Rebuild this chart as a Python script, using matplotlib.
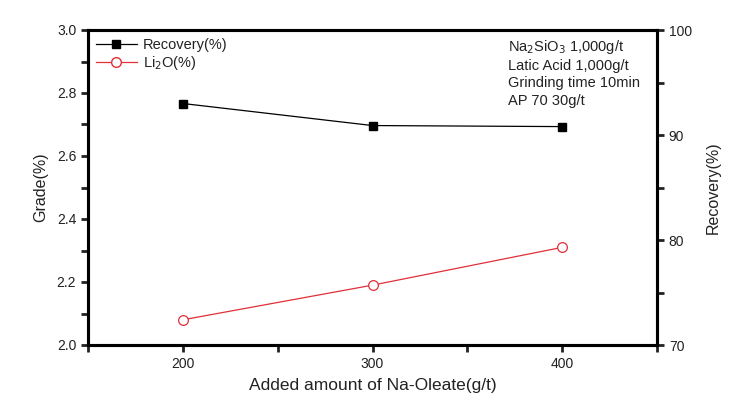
import matplotlib
matplotlib.use("Agg")
import matplotlib.pyplot as plt
from matplotlib.lines import Line2D
from matplotlib.ticker import MultipleLocator, FixedLocator

plt.rcParams['font.family'] = ['Liberation Sans', 'DejaVu Sans']

x_vals = [200, 300, 400]
recovery = [93.0, 90.9, 90.8]
li2o = [2.08, 2.19, 2.31]
x_ticks = [200, 300, 400]
grade_ticks = [2.0, 2.2, 2.4, 2.6, 2.8, 3.0]
rec_ticks = [70, 80, 90, 100]
notes = ["Na$_2$SiO$_3$ 1,000g/t", "Latic Acid 1,000g/t", "Grinding time 10min", "AP 70 30g/t"]

tc = '#222222'
fig = plt.figure(figsize=(7.41, 4.03), dpi=100)
ax = fig.add_axes([88/741, 1-345/403, (657-88)/741, (345-30)/403])
ax2 = ax.twinx()

ax.plot(x_vals, li2o, color='#e0303a', lw=0.9, marker='o', ms=7, mfc='white', mec='#e0303a', mew=0.9)
ax2.plot(x_vals, recovery, color='black', lw=0.9, marker='s', ms=6, mfc='black', mec='black')

ax.set_xlim(150, 450)
ax.set_ylim(2.0, 3.0)
ax2.set_ylim(70, 100)

ax.xaxis.set_major_locator(FixedLocator(x_ticks))
ax.xaxis.set_minor_locator(MultipleLocator(50))
ax.yaxis.set_major_locator(FixedLocator(grade_ticks))
ax.yaxis.set_minor_locator(MultipleLocator(0.1))
ax2.yaxis.set_major_locator(FixedLocator(rec_ticks))
ax2.yaxis.set_minor_locator(MultipleLocator(5))

for a in (ax, ax2):
    for s in a.spines.values():
        s.set_linewidth(2.2)
    a.tick_params(which='both', direction='out', width=2, labelsize=10, colors=tc)
    a.tick_params(which='major', length=5)
    a.tick_params(which='minor', length=5)
ax.set_yticklabels([f"{v:.1f}" for v in grade_ticks])

ax.set_xlabel("Added amount of Na-Oleate(g/t)", fontsize=12.5, color=tc, labelpad=5)
ax.set_ylabel("Grade(%)", fontsize=11.5, color=tc, labelpad=6)
ax2.set_ylabel("Recovery(%)", fontsize=11.5, color=tc, labelpad=10)

handles = [Line2D([], [], color='black', lw=0.9, marker='s', ms=6, mfc='black'),
           Line2D([], [], color='#e0303a', lw=0.9, marker='o', ms=7, mfc='white', mec='#e0303a')]
ax2.legend(handles, ["Recovery(%)", "Li$_2$O(%)"], loc='upper left', frameon=False,
           fontsize=10.5, handlelength=2.8, borderaxespad=0.15, labelspacing=0.15,
           handletextpad=0.4, labelcolor=tc)

ax2.text(0.738, 0.975, "\n".join(notes), transform=ax.transAxes, ha='left', va='top',
         fontsize=10.5, color=tc, linespacing=1.3)

fig.savefig("out.png", dpi=100)
